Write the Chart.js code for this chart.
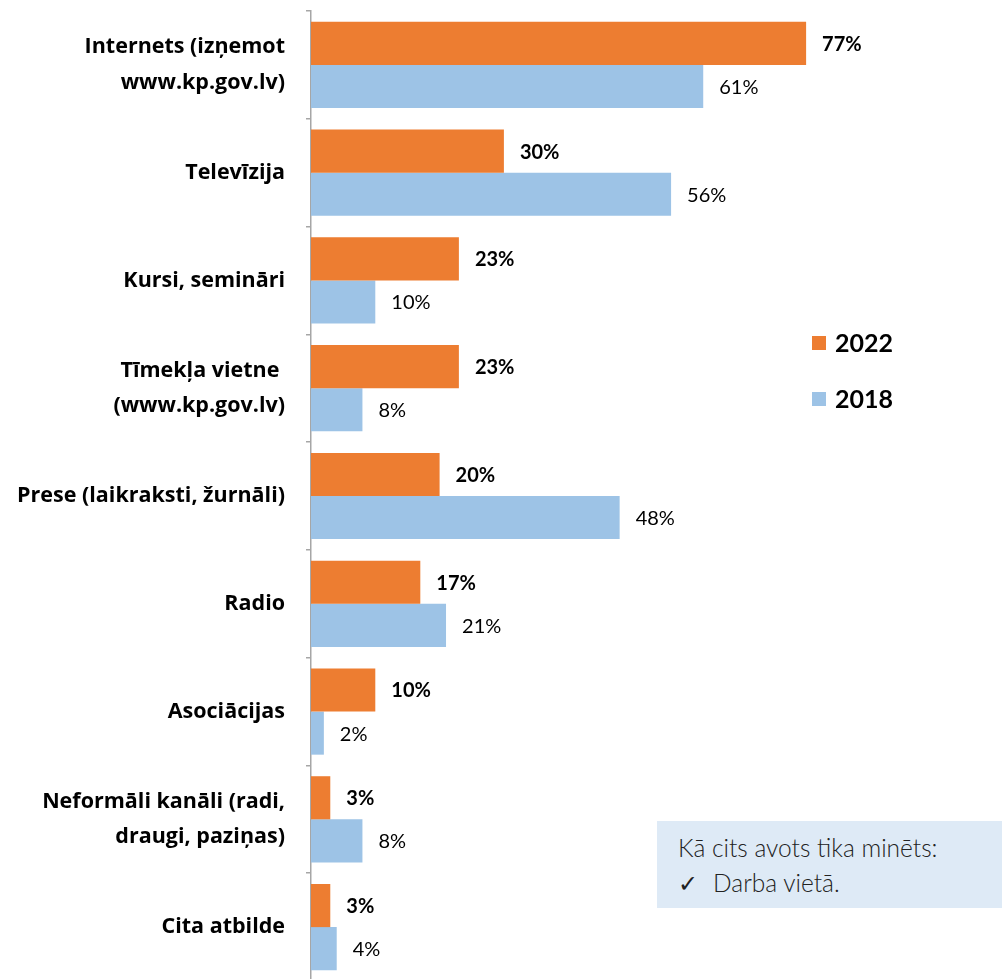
<!DOCTYPE html>
<html>
<head>
<meta charset="utf-8">
<script src="https://cdn.jsdelivr.net/npm/chart.js@4"></script>
<style>
  html, body { margin: 0; padding: 0; background: #fff; overflow: hidden; }
  #wrap { position: relative; width: 1002px; height: 990px; }
  #note {
    position: absolute; left: 657px; top: 821px; width: 345px; height: 87px;
    background: #deeaf6; box-sizing: border-box; padding: 9px 0 0 21px;
    font-family: Lato, "Open Sans", sans-serif; font-weight: 300; font-size: 24.5px;
    color: #222; line-height: 35px; white-space: nowrap;
  }
  #note .chk { display: inline-block; width: 35px; font-family: "DejaVu Sans", sans-serif; font-size: 24px; }
</style>
</head>
<body>
<div id="wrap">
  <canvas id="myChart" width="1002" height="990"></canvas>
  <div id="note">
    <div>Kā cits avots tika minēts:</div>
    <div><span class="chk">✓</span>Darba vietā.</div>
  </div>
</div>
<script>
const categories = [
  ['Internets (izņemot', 'www.kp.gov.lv)'],
  'Televīzija',
  'Kursi, semināri',
  ['Tīmekļa vietne ', '(www.kp.gov.lv)'],
  'Prese (laikraksti, žurnāli)',
  'Radio',
  'Asociācijas',
  ['Neformāli kanāli (radi,', 'draugi, paziņas)'],
  'Cita atbilde'
];
const values2022 = [77, 30, 23, 23, 20, 17, 10, 3, 3];
const values2018 = [61, 56, 10, 8, 48, 21, 2, 8, 4];
const seriesLabels = ['2022', '2018'];
const seriesColors = ['#ed7d31', '#9dc3e6'];

const fontFamily = 'Lato, "Open Sans", sans-serif';
const labelFont = '"Open Sans", Lato, sans-serif';

// value labels at the end of each bar
const valueLabels = {
  id: 'valueLabels',
  afterDatasetsDraw(chart) {
    const ctx = chart.ctx;
    chart.data.datasets.forEach((ds, di) => {
      const meta = chart.getDatasetMeta(di);
      meta.data.forEach((bar, i) => {
        ctx.save();
        ctx.fillStyle = '#000';
        ctx.font = (di === 0 ? 'bold ' : '') + '20px ' + fontFamily;
        ctx.textAlign = 'left';
        ctx.textBaseline = 'middle';
        ctx.fillText(ds.data[i] + '%', bar.x + 16, bar.y + 1);
        ctx.restore();
      });
    });
  }
};

// legend on the right side
const sideLegend = {
  id: 'sideLegend',
  afterDraw(chart) {
    const ctx = chart.ctx;
    chart.data.datasets.forEach((ds, di) => {
      const y = 343 + di * 56;
      ctx.save();
      ctx.fillStyle = ds.backgroundColor;
      ctx.fillRect(812, y - 7, 14, 14);
      ctx.fillStyle = '#000';
      ctx.font = 'bold 25px ' + fontFamily;
      ctx.textBaseline = 'middle';
      ctx.fillText(ds.label, 835, y + 1);
      ctx.restore();
    });
  }
};

new Chart(document.getElementById('myChart').getContext('2d'), {
  type: 'bar',
  data: {
    labels: categories,
    datasets: [
      { label: seriesLabels[0], data: values2022, backgroundColor: seriesColors[0] },
      { label: seriesLabels[1], data: values2018, backgroundColor: seriesColors[1] }
    ]
  },
  options: {
    indexAxis: 'y',
    responsive: false,
    animation: false,
    categoryPercentage: 0.8,
    barPercentage: 1.0,
    layout: { padding: { top: 11, bottom: 9, left: 0, right: 48 } },
    plugins: {
      legend: { display: false },
      tooltip: { enabled: false }
    },
    scales: {
      x: { display: false, min: 0, max: 100 },
      y: {
        afterFit(scale) {
          scale.width = 311;
          scale.paddingTop = 0;
          scale.paddingBottom = 0;
        },
        grid: { drawOnChartArea: false, tickLength: 5, color: '#a6a6a6', lineWidth: 1.5, offset: true },
        border: { color: '#a6a6a6', width: 1.5 },
        ticks: {
          padding: 21,
          color: '#000',
          font: { family: labelFont, size: 21.5, weight: 'bold', lineHeight: 1.63 }
        }
      }
    }
  },
  plugins: [valueLabels, sideLegend]
});
</script>
</body>
</html>
